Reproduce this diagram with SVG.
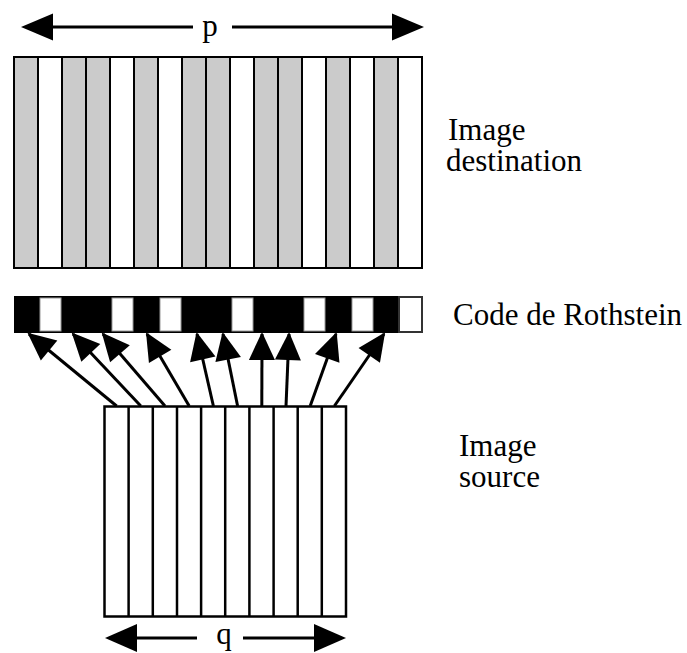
<svg xmlns="http://www.w3.org/2000/svg" width="687" height="653" viewBox="0 0 687 653">
  <style>
    .lbl { font-family: "Liberation Serif", "Times New Roman", serif; font-size: 31px; fill: #000; }
    .g { fill: #cbcbcb; stroke: #000; stroke-width: 2; }
    .w { fill: #fff; stroke: #000; stroke-width: 2; }
    .cw { fill: #fff; stroke: #999; stroke-width: 1; }
    .conn { stroke: #000; stroke-width: 3; fill: none; marker-end: url(#ah); }
    .dim { stroke: #000; stroke-width: 3; fill: none; }
  </style>
  <defs>
    <marker id="ah" viewBox="0 0 30 26" refX="28" refY="13" markerWidth="30" markerHeight="26" markerUnits="userSpaceOnUse" orient="auto" overflow="visible">
      <path d="M30,13 L2,0 L2,26 Z" fill="#000"/>
    </marker>
  </defs>
  <rect width="687" height="653" fill="#fff"/>

  <g id="dim-p">
    <line class="dim" x1="50" y1="27" x2="193" y2="27"/>
    <line class="dim" x1="232" y1="27" x2="395" y2="27"/>
    <polygon points="21,27 53,13.5 53,40.5" fill="#000"/>
    <polygon points="424,27 392,13.5 392,40.5" fill="#000"/>
    <text class="lbl" x="210" y="36" text-anchor="middle">p</text>
  </g>

  <g id="image-destination">
    <rect class="g" x="14" y="57" width="24" height="211"/>
    <rect class="w" x="38" y="57" width="24" height="211"/>
    <rect class="g" x="62" y="57" width="24" height="211"/>
    <rect class="g" x="86" y="57" width="24" height="211"/>
    <rect class="w" x="110" y="57" width="24" height="211"/>
    <rect class="g" x="134" y="57" width="24" height="211"/>
    <rect class="w" x="158" y="57" width="24" height="211"/>
    <rect class="g" x="182" y="57" width="24" height="211"/>
    <rect class="g" x="206" y="57" width="24" height="211"/>
    <rect class="w" x="230" y="57" width="24" height="211"/>
    <rect class="g" x="254" y="57" width="24" height="211"/>
    <rect class="g" x="278" y="57" width="24" height="211"/>
    <rect class="w" x="302" y="57" width="24" height="211"/>
    <rect class="g" x="326" y="57" width="24" height="211"/>
    <rect class="w" x="350" y="57" width="24" height="211"/>
    <rect class="g" x="374" y="57" width="24" height="211"/>
    <rect class="w" x="398" y="57" width="24" height="211"/>
    <text class="lbl" x="448" y="140">Image</text>
    <text class="lbl" x="446" y="171">destination</text>
  </g>

  <g id="code-rothstein">
    <rect x="14" y="296" width="384" height="37" fill="#000"/>
    <rect class="cw" x="40" y="298" width="21" height="33"/>
    <rect class="cw" x="112" y="298" width="21" height="33"/>
    <rect class="cw" x="160" y="298" width="21" height="33"/>
    <rect class="cw" x="232" y="298" width="21" height="33"/>
    <rect class="cw" x="304" y="298" width="21" height="33"/>
    <rect class="cw" x="352" y="298" width="21" height="33"/>
    <rect x="399" y="297" width="23" height="35" fill="#fff" stroke="#333" stroke-width="2"/>
    <text class="lbl" x="453" y="325">Code de Rothstein</text>
  </g>

  <g id="image-source">
    <rect x="104.5" y="406.5" width="241.5" height="210" fill="#fff" stroke="#000" stroke-width="2.5"/>
    <g stroke="#000" stroke-width="2.5">
      <line x1="128.6" y1="406.5" x2="128.6" y2="616.5"/>
      <line x1="152.8" y1="406.5" x2="152.8" y2="616.5"/>
      <line x1="177" y1="406.5" x2="177" y2="616.5"/>
      <line x1="201.1" y1="406.5" x2="201.1" y2="616.5"/>
      <line x1="225.2" y1="406.5" x2="225.2" y2="616.5"/>
      <line x1="249.4" y1="406.5" x2="249.4" y2="616.5"/>
      <line x1="273.6" y1="406.5" x2="273.6" y2="616.5"/>
      <line x1="297.7" y1="406.5" x2="297.7" y2="616.5"/>
      <line x1="321.8" y1="406.5" x2="321.8" y2="616.5"/>
    </g>
    <text class="lbl" x="459" y="456">Image</text>
    <text class="lbl" x="459" y="487">source</text>
  </g>

  <g id="connectors">
    <line class="conn" x1="116.6" y1="406" x2="29" y2="334"/>
    <line class="conn" x1="140.8" y1="406" x2="73" y2="334"/>
    <line class="conn" x1="165" y1="406" x2="103" y2="334"/>
    <line class="conn" x1="189.2" y1="406" x2="147" y2="334"/>
    <line class="conn" x1="213.4" y1="406" x2="197" y2="334"/>
    <line class="conn" x1="237.6" y1="406" x2="223" y2="334"/>
    <line class="conn" x1="261.8" y1="406" x2="262" y2="334"/>
    <line class="conn" x1="286" y1="406" x2="289" y2="334"/>
    <line class="conn" x1="310.2" y1="406" x2="336" y2="334"/>
    <line class="conn" x1="334.4" y1="406" x2="384" y2="334"/>
  </g>

  <g id="dim-q">
    <line class="dim" x1="134" y1="638" x2="197" y2="638"/>
    <line class="dim" x1="243" y1="638" x2="316" y2="638"/>
    <polygon points="105,638 137,624 137,652" fill="#000"/>
    <polygon points="346,638 314,624 314,652" fill="#000"/>
    <text class="lbl" x="224" y="644" text-anchor="middle">q</text>
  </g>
</svg>
